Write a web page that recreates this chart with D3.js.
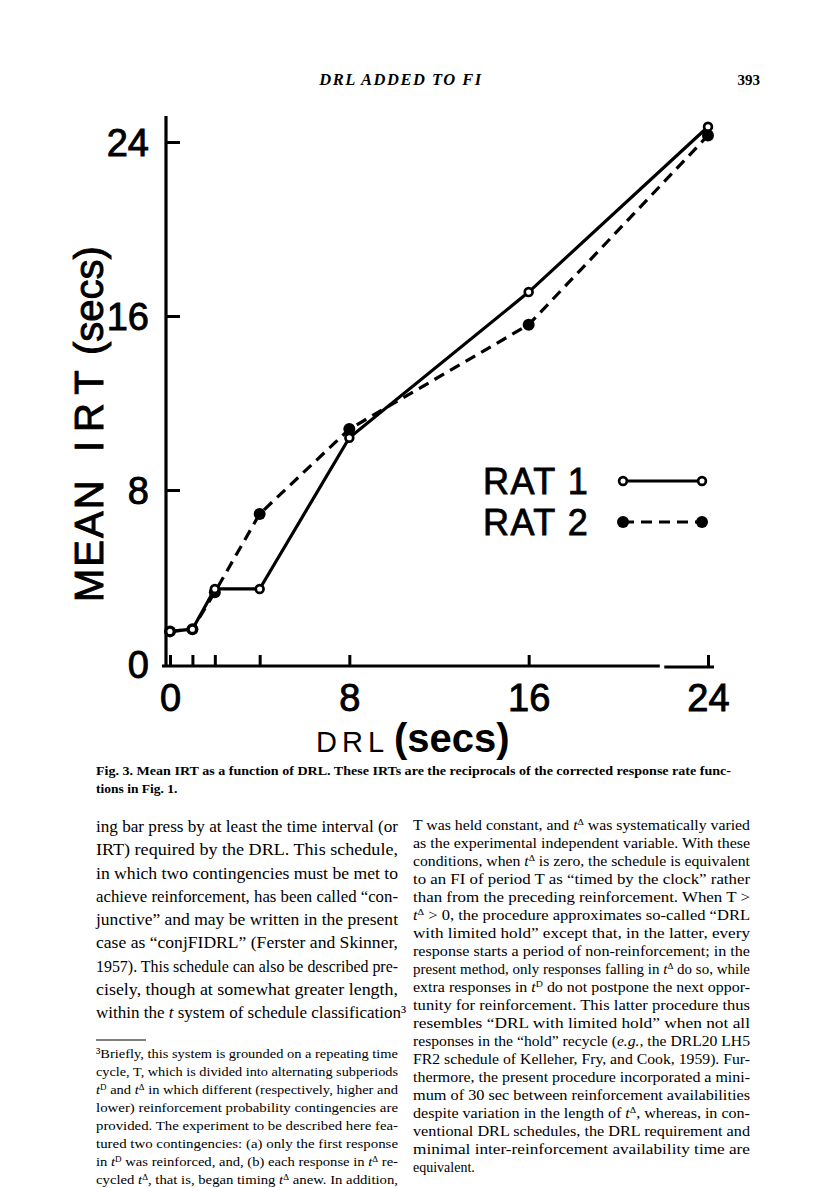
<!DOCTYPE html>
<html><head><meta charset="utf-8">
<script src="https://cdn.jsdelivr.net/npm/d3@7"></script>
<style>
html,body{margin:0;padding:0;background:#fff;}
svg{display:block;}
</style></head>
<body>
<svg id="page" width="816" height="1188"></svg>
<script>
// ---- data ----
const drl = [0, 1, 2, 4, 8, 16, 24];
const rat1 = [1.5, 1.6, 3.45, 3.45, 10.4, 17.1, 24.7];
const rat2 = [1.5, 1.6, 3.3, 6.9, 10.8, 15.6, 24.3];
const xTicks = [0, 1, 2, 4, 8, 16, 24];
const xTickLabels = [0, 8, 16, 24];
const yTicks = [0, 8, 16, 24];
const seriesNames = ["RAT 1", "RAT 2"];

const header = "DRL ADDED TO FI";
const pageNo = "393";
const captionLines = [
  "Fig. 3. Mean IRT as a function of DRL. These IRTs are the reciprocals of the corrected response rate func-",
  "tions in Fig. 1."
];
const leftLines = [
  "ing bar press by at least the time interval (or",
  "IRT) required by the DRL. This schedule,",
  "in which two contingencies must be met to",
  "achieve reinforcement, has been called \u201ccon-",
  "junctive\u201d and may be written in the present",
  "case as \u201cconjFIDRL\u201d (Ferster and Skinner,",
  "1957). This schedule can also be described pre-",
  "cisely, though at somewhat greater length,",
  "within the {i:t} system of schedule classification\u00b3"
];
const footLines = [
  "\u00b3Briefly, this system is grounded on a repeating time",
  "cycle, T, which is divided into alternating subperiods",
  "{i:t}{s:D} and {i:t}{s:\u0394} in which different (respectively, higher and",
  "lower) reinforcement probability contingencies are",
  "provided. The experiment to be described here fea-",
  "tured two contingencies: (a) only the first response",
  "in {i:t}{s:D} was reinforced, and, (b) each response in {i:t}{s:\u0394} re-",
  "cycled {i:t}{s:\u0394}, that is, began timing {i:t}{s:\u0394} anew. In addition,"
];
const rightLines = [
  "T was held constant, and {i:t}{s:\u0394} was systematically varied",
  "as the experimental independent variable. With these",
  "conditions, when {i:t}{s:\u0394} is zero, the schedule is equivalent",
  "to an FI of period T as \u201ctimed by the clock\u201d rather",
  "than from the preceding reinforcement. When T >",
  "{i:t}{s:\u0394} > 0, the procedure approximates so-called \u201cDRL",
  "with limited hold\u201d except that, in the latter, every",
  "response starts a period of non-reinforcement; in the",
  "present method, only responses falling in {i:t}{s:\u0394} do so, while",
  "extra responses in {i:t}{s:D} do not postpone the next oppor-",
  "tunity for reinforcement. This latter procedure thus",
  "resembles \u201cDRL with limited hold\u201d when not all",
  "responses in the \u201chold\u201d recycle ({i:e.g.,} the DRL20 LH5",
  "FR2 schedule of Kelleher, Fry, and Cook, 1959). Fur-",
  "thermore, the present procedure incorporated a mini-",
  "mum of 30 sec between reinforcement availabilities",
  "despite variation in the length of {i:t}{s:\u0394}, whereas, in con-",
  "ventional DRL schedules, the DRL requirement and",
  "minimal inter-reinforcement availability time are",
  "equivalent."
];

const svg = d3.select("#page");
const SANS = "'Liberation Sans', Arial, sans-serif";
const SERIF = "'Liberation Serif', 'Times New Roman', serif";

// ---- scales ----
const x = d3.scaleLinear().domain([0, 24]).range([170, 708]);
const y = d3.scaleLinear().domain([0, 24]).range([664, 142]);

const chart = svg.append("g");

// y axis
const yAxis = d3.axisLeft(y).tickValues(yTicks).tickSize(-14).tickPadding(17).tickFormat(d3.format("d"));
const gy = chart.append("g").attr("transform", "translate(166,0)").call(yAxis);
gy.select(".domain").remove();
gy.selectAll(".tick line").attr("stroke", "#000").attr("stroke-width", 3)
  .filter(d => d === 0).remove();
gy.selectAll(".tick text").attr("font-family", SANS).attr("font-size", 38)
  .attr("fill", "#000").attr("stroke", "#000").attr("stroke-width", 0.9).attr("dy", "0.36em");
chart.append("line").attr("x1", 166).attr("x2", 166).attr("y1", y(0) + 2).attr("y2", y(25.2))
  .attr("stroke", "#000").attr("stroke-width", 3.2);

// x axis
const xAxis = d3.axisBottom(x).tickValues(xTicks).tickSize(-11).tickPadding(18)
  .tickFormat(d => xTickLabels.includes(d) ? d : "");
const gx = chart.append("g").attr("transform", `translate(0,${y(0) + 2})`).call(xAxis);
gx.select(".domain").remove();
gx.selectAll(".tick line").attr("stroke", "#000").attr("stroke-width", 3);
gx.selectAll(".tick text").attr("font-family", SANS).attr("font-size", 38)
  .attr("fill", "#000").attr("stroke", "#000").attr("stroke-width", 0.9).attr("dy", "0.72em");
chart.append("line").attr("x1", 162).attr("x2", x(21.85)).attr("y1", y(0) + 2).attr("y2", y(0) + 2)
  .attr("stroke", "#000").attr("stroke-width", 3.2);
chart.append("line").attr("x1", x(22.05)).attr("x2", 714).attr("y1", y(0) + 3).attr("y2", y(0) + 3)
  .attr("stroke", "#000").attr("stroke-width", 3.2);

// axis titles
const xt = chart.append("text").attr("x", 316).attr("y", 752).attr("font-family", SANS).attr("fill", "#000");
xt.append("tspan").attr("font-size", 29).attr("letter-spacing", 5).text("DRL");
xt.append("tspan").attr("font-size", 40).attr("dx", 5).attr("font-weight", "bold").text("(secs)");

function yTitle(str, yPos, size, spacing) {
  chart.append("text").attr("transform", `translate(103,${yPos}) rotate(-90)`)
    .attr("font-family", SANS).attr("font-size", size).attr("letter-spacing", spacing)
    .attr("fill", "#000").attr("stroke", "#000").attr("stroke-width", 0.9).text(str);
}
yTitle("MEAN", 602, 40, 2);
yTitle("IRT", 452, 40, 9);
yTitle("(secs)", 355, 40, 0);

// lines
const line = d3.line().x((d, i) => x(drl[i])).y(d => y(d));
chart.append("path").datum(rat2).attr("d", line).attr("fill", "none")
  .attr("stroke", "#000").attr("stroke-width", 3.2).attr("stroke-dasharray", "11,7");
chart.append("path").datum(rat1).attr("d", line).attr("fill", "none")
  .attr("stroke", "#000").attr("stroke-width", 3.2);
chart.selectAll(".f").data(rat2).join("circle").attr("cx", (d, i) => x(drl[i])).attr("cy", d => y(d))
  .attr("r", 6).attr("fill", "#000");
chart.selectAll(".o").data(rat1).join("circle").attr("cx", (d, i) => x(drl[i])).attr("cy", d => y(d))
  .attr("r", 3.9).attr("fill", "#fff").attr("stroke", "#000").attr("stroke-width", 2.7);

// legend
const leg = chart.append("g");
seriesNames.forEach((name, i) => {
  const ly = 481 + i * 41;
  leg.append("text").attr("x", 483).attr("y", ly + 13).attr("font-family", SANS).attr("font-size", 36)
    .attr("letter-spacing", 1.5).attr("fill", "#000").attr("stroke", "#000").attr("stroke-width", 0.8).text(name);
  leg.append("line").attr("x1", 623).attr("x2", 702).attr("y1", ly).attr("y2", ly)
    .attr("stroke", "#000").attr("stroke-width", 3.2).attr("stroke-dasharray", i ? "11,7" : null);
  [623, 702].forEach(cx => {
    if (i) leg.append("circle").attr("cx", cx).attr("cy", ly).attr("r", 6).attr("fill", "#000");
    else leg.append("circle").attr("cx", cx).attr("cy", ly).attr("r", 3.9).attr("fill", "#fff")
      .attr("stroke", "#000").attr("stroke-width", 2.7);
  });
});

// ---- page text ----
svg.append("text").attr("x", 401).attr("y", 85).attr("text-anchor", "middle").attr("font-family", SERIF)
  .attr("font-style", "italic").attr("font-weight", "bold").attr("font-size", 16.5).attr("letter-spacing", 1.5)
  .attr("fill", "#000").text(header);
svg.append("text").attr("x", 760).attr("y", 85).attr("text-anchor", "end").attr("font-family", SERIF)
  .attr("font-weight", "bold").attr("font-size", 15).attr("fill", "#000").text(pageNo);

function writeLine(str, x0, yb, size, width, weight) {
  const t = svg.append("text").attr("x", x0).attr("y", yb).attr("font-family", SERIF)
    .attr("font-size", size).attr("fill", "#000").attr("font-weight", weight || "normal");
  const re = /\{([is]):([^}]*)\}/g;
  let last = 0, m;
  while ((m = re.exec(str)) !== null) {
    if (m.index > last) t.append("tspan").text(str.slice(last, m.index));
    if (m[1] === "i") t.append("tspan").attr("font-style", "italic").text(m[2]);
    else t.append("tspan").attr("font-size", size * 0.62).attr("baseline-shift", "super").text(m[2]);
    last = re.lastIndex;
  }
  if (last < str.length) t.append("tspan").text(str.slice(last));
  if (width) t.attr("textLength", width).attr("lengthAdjust", "spacingAndGlyphs");
}
captionLines.forEach((s, i) => writeLine(s, 96, 775 + i * 18, 13.5, i === 0 ? 635 : null, "bold"));
leftLines.forEach((s, i) => writeLine(s, 96, 832 + i * 23.25, 17, i === leftLines.length - 1 ? null : 302));
svg.append("line").attr("x1", 96).attr("x2", 146).attr("y1", 1040).attr("y2", 1040)
  .attr("stroke", "#000").attr("stroke-width", 1);
footLines.forEach((s, i) => writeLine(s, 96, 1058 + i * 18, 13.5, 302));
rightLines.forEach((s, i) => writeLine(s, 413, 830 + i * 18, 14, i === rightLines.length - 1 ? null : 337));
</script>
</body></html>
